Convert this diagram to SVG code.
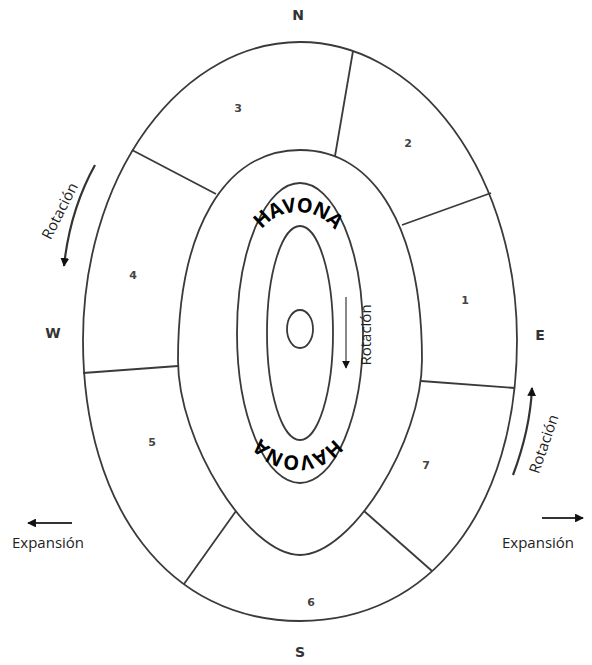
<svg xmlns="http://www.w3.org/2000/svg" width="592" height="665" viewBox="0 0 592 665">
<defs>
<style>
.ln{fill:none;stroke:#3a3a3a;stroke-width:1.8}
.num{font-family:"DejaVu Sans",sans-serif;font-weight:bold;font-size:11px;fill:#444;text-anchor:middle}
.dir{font-family:"DejaVu Sans",sans-serif;font-weight:bold;font-size:14px;fill:#333;text-anchor:middle}
.lbl{font-family:"Open Sans",sans-serif;font-size:15px;fill:#222}
.hav{font-family:"Open Sans",sans-serif;font-weight:700;font-size:20px;fill:#000;letter-spacing:-0.8px}
.arr{fill:none;stroke:#333;stroke-width:2.2}
</style>
<marker id="ah" viewBox="0 0 10 10" refX="9" refY="5" markerWidth="4" markerHeight="4" orient="auto" markerUnits="strokeWidth">
<path d="M0,0 L10,5 L0,10 z" fill="#111"/>
</marker>
<path id="havTop" d="M252,258 A46,46 0 0 1 344,258"/>
<path id="havBot" d="M344,410 A46,46 0 0 1 252,410"/>
</defs>
<rect width="592" height="665" fill="#fff"/>
<g id="rings">
<path class="ln" d="M83,340 A217,298 0 0 1 517,340 C517,508.6 430.2,621 300,621 C169.8,621 83,508.6 83,340 Z"/>
<path class="ln" d="M178,360 C178,229.8 224.4,150 300,150 C375.6,150 422,229.8 422,360 C422,441.9 351.2,555 300,555 C248.8,555 178,441.9 178,360 Z"/>
<ellipse class="ln" cx="300" cy="333" rx="63" ry="150"/>
<ellipse class="ln" cx="300" cy="333" rx="33" ry="107"/>
<ellipse class="ln" cx="300" cy="329" rx="13" ry="19"/>
</g>
<g id="dividers">
<line class="ln" x1="353" y1="51" x2="335" y2="156"/>
<line class="ln" x1="491" y1="193" x2="402" y2="225"/>
<line class="ln" x1="421" y1="381" x2="515" y2="388"/>
<line class="ln" x1="364" y1="511" x2="432" y2="571"/>
<line class="ln" x1="236" y1="511" x2="184" y2="584"/>
<line class="ln" x1="83" y1="373" x2="178" y2="366"/>
<line class="ln" x1="132" y1="150" x2="216" y2="194"/>
</g>
<g id="sectors">
<text class="num" x="238" y="112">3</text>
<text class="num" x="408" y="147">2</text>
<text class="num" x="465" y="304">1</text>
<text class="num" x="133" y="279">4</text>
<text class="num" x="152" y="446">5</text>
<text class="num" x="426" y="469">7</text>
<text class="num" x="311" y="606">6</text>
</g>
<g id="compass">
<text class="dir" x="298" y="20">N</text>
<text class="dir" x="300" y="657">S</text>
<text class="dir" x="53" y="338">W</text>
<text class="dir" x="540" y="340">E</text>
</g>
<g id="havona">
<text class="hav"><textPath href="#havTop" startOffset="50%" text-anchor="middle">HAVONA</textPath></text>
<text class="hav"><textPath href="#havBot" startOffset="50%" text-anchor="middle">HAVONA</textPath></text>
</g>
<g id="connectors">
<path class="arr" d="M95,165 Q70,210 64,266" marker-end="url(#ah)"/>
<line x1="346" y1="297" x2="346" y2="368" stroke="#888" stroke-width="2" marker-end="url(#ah)"/>
<path class="arr" d="M513,475 Q530,430 532,388" marker-end="url(#ah)"/>
<line class="arr" x1="72" y1="523" x2="28" y2="523" marker-end="url(#ah)"/>
<line class="arr" x1="542" y1="518" x2="583" y2="518" marker-end="url(#ah)"/>
</g>
<g id="labels">
<text class="lbl" transform="translate(60,211) rotate(-63)" text-anchor="middle" dy="5">Rotación</text>
<text class="lbl" transform="translate(366,335) rotate(-90)" text-anchor="middle" dy="5">Rotación</text>
<text class="lbl" transform="translate(544,444) rotate(-71)" text-anchor="middle" dy="5">Rotación</text>
<text class="lbl" x="12" y="548">Expansión</text>
<text class="lbl" x="502" y="548">Expansión</text>
</g>
</svg>
